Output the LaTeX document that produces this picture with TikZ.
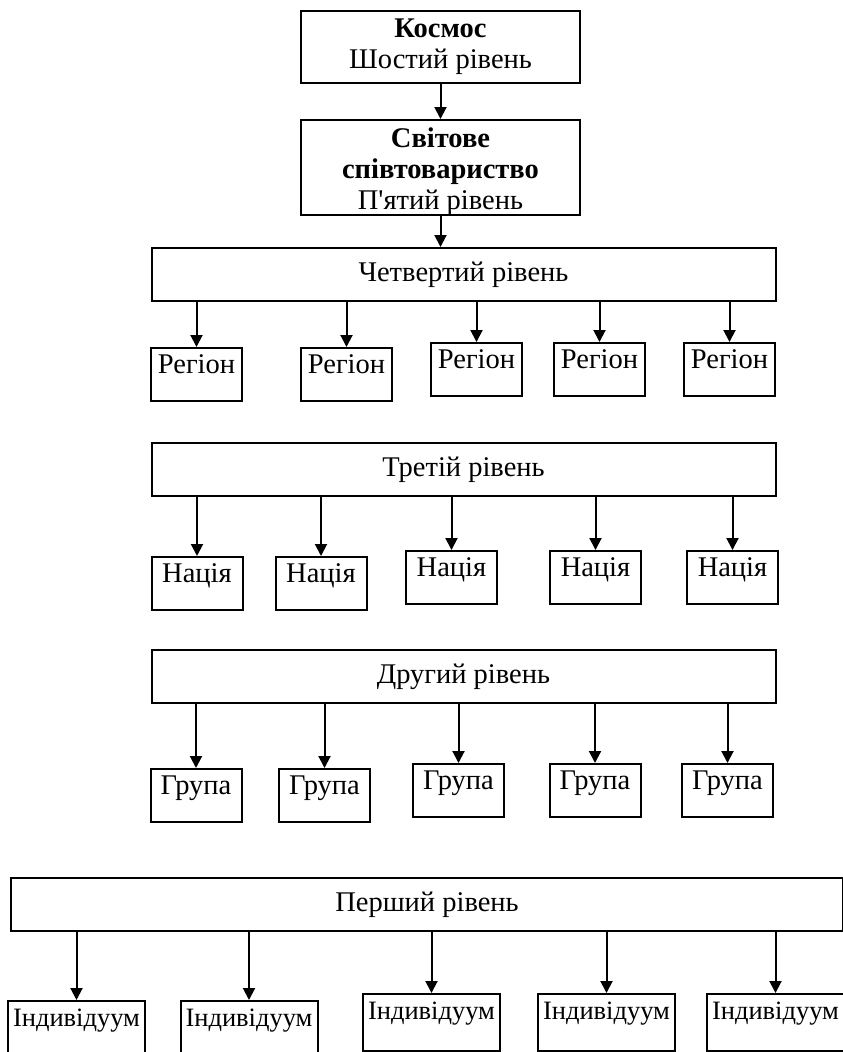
\documentclass[tikz,border=0pt]{standalone}
\usepackage{fontspec}
\setmainfont{Liberation Serif}
\usetikzlibrary{arrows.meta}
\tikzset{
	topbox/.style={draw, line width=2pt, minimum width=279pt, align=center, inner sep=0pt, anchor=north},
	levelbox/.style={draw, line width=2pt, minimum width=624pt, minimum height=53pt, inner sep=0pt, anchor=north},
	unitbox/.style={draw, line width=2pt, minimum width=91pt, inner sep=0pt, text height=25pt, text depth=28pt, anchor=north},
	indbox/.style={unitbox, minimum width=137pt, text depth=32pt, font=\fontsize{26.5}{31}\selectfont},
	arr/.style={line width=2pt, -{Triangle[length=12pt,width=12pt]}}
}
\begin{document}
\begin{tikzpicture}[x=1pt, y=-1pt, font=\fontsize{28.5}{31}\selectfont]
			%%%%% START %%%%%
			\useasboundingbox (0,0) rectangle (843,1052);
			
			\node[topbox, minimum height=72pt] (kosmos) at (440.5,10) {\textbf{Космос}\\Шостий рівень};
			\node[topbox, minimum height=93pt] (svit) at (440.5,119) {\rule{0pt}{27pt}\textbf{Світове}\\\textbf{співтовариство}\\П\textquotesingle ятий рівень};
			\draw[arr] (kosmos) -- (svit);
			
			\node[levelbox] (lvl4) at (463.5,247) {Четвертий рівень};
			\draw[arr] (svit) -- (lvl4.north -| svit);
			
			\node[unitbox] (reg1) at (196.5,347) {Регіон};
			\node[unitbox] (reg2) at (346.5,347) {Регіон};
			\node[unitbox] (reg3) at (476.5,342) {Регіон};
			\node[unitbox] (reg4) at (599.5,342) {Регіон};
			\node[unitbox] (reg5) at (729.5,342) {Регіон};
			\draw[arr] (lvl4.south -| reg1) -- (reg1);
			\draw[arr] (lvl4.south -| reg2) -- (reg2);
			\draw[arr] (lvl4.south -| reg3) -- (reg3);
			\draw[arr] (lvl4.south -| reg4) -- (reg4);
			\draw[arr] (lvl4.south -| reg5) -- (reg5);
			
			\node[levelbox] (lvl3) at (463.5,442) {Третій рівень};
			
			\node[unitbox] (nat1) at (197,556) {Нація};
			\node[unitbox] (nat2) at (321,556) {Нація};
			\node[unitbox] (nat3) at (451.5,550) {Нація};
			\node[unitbox] (nat4) at (595.5,550) {Нація};
			\node[unitbox] (nat5) at (732.5,550) {Нація};
			\draw[arr] (lvl3.south -| nat1) -- (nat1);
			\draw[arr] (lvl3.south -| nat2) -- (nat2);
			\draw[arr] (lvl3.south -| nat3) -- (nat3);
			\draw[arr] (lvl3.south -| nat4) -- (nat4);
			\draw[arr] (lvl3.south -| nat5) -- (nat5);
			
			\node[levelbox] (lvl2) at (463.5,649) {Другий рівень};
			
			\node[unitbox] (grp1) at (196,768) {Група};
			\node[unitbox] (grp2) at (324.5,768) {Група};
			\node[unitbox] (grp3) at (458.5,763) {Група};
			\node[unitbox] (grp4) at (595,763) {Група};
			\node[unitbox] (grp5) at (727.5,763) {Група};
			\draw[arr] (lvl2.south -| grp1) -- (grp1);
			\draw[arr] (lvl2.south -| grp2) -- (grp2);
			\draw[arr] (lvl2.south -| grp3) -- (grp3);
			\draw[arr] (lvl2.south -| grp4) -- (grp4);
			\draw[arr] (lvl2.south -| grp5) -- (grp5);
			
			\node[levelbox, minimum width=832pt] (lvl1) at (427,877) {Перший рівень};
			
			\node[indbox] (ind1) at (76.5,1000) {Індивідуум};
			\node[indbox] (ind2) at (249,1000) {Індивідуум};
			\node[indbox] (ind3) at (431.5,993) {Індивідуум};
			\node[indbox] (ind4) at (606.5,993) {Індивідуум};
			\node[indbox] (ind5) at (775.5,993) {Індивідуум};
			\draw[arr] (lvl1.south -| ind1) -- (ind1);
			\draw[arr] (lvl1.south -| ind2) -- (ind2);
			\draw[arr] (lvl1.south -| ind3) -- (ind3);
			\draw[arr] (lvl1.south -| ind4) -- (ind4);
			\draw[arr] (lvl1.south -| ind5) -- (ind5);
			
			%%%%% END %%%%%
\end{tikzpicture}
\end{document}
